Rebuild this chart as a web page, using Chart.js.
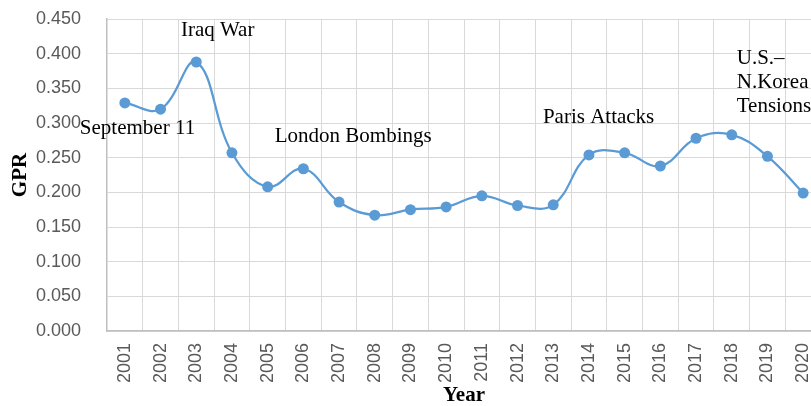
<!DOCTYPE html>
<html>
<head>
<meta charset="utf-8">
<script src="https://cdn.jsdelivr.net/npm/chart.js@4"></script>
<style>
  html, body { margin: 0; padding: 0; background: #fff; overflow: hidden; }
  #wrap { width: 811px; height: 406px; overflow: hidden; }
</style>
</head>
<body>
<div id="wrap"><canvas id="myChart" width="840" height="406"></canvas></div>
<script>
// datos del grafico
const years = ["2001", "2002", "2003", "2004", "2005", "2006", "2007", "2008", "2009", "2010",
  "2011", "2012", "2013", "2014", "2015", "2016", "2017", "2018", "2019", "2020"];
const gprValues = [0.329, 0.320, 0.388, 0.257, 0.208, 0.234, 0.186, 0.167, 0.175, 0.179,
  0.195, 0.181, 0.182, 0.254, 0.257, 0.238, 0.278, 0.283, 0.252, 0.199];
const yTicks = [0, 0.05, 0.1, 0.15, 0.2, 0.25, 0.3, 0.35, 0.4, 0.45];

// eventos: texto, posicion en categoria (x) y en GPR (linea base)
const eventLabels = [
  { lines: ["Iraq War"], x: 1.57, y: 0.4255 },
  { lines: ["September 11"], x: -1.26, y: 0.284 },
  { lines: ["London Bombings"], x: 4.2, y: 0.2726 },
  { lines: ["Paris Attacks"], x: 11.71, y: 0.300 },
  { lines: ["U.S.\u2013", "N.Korea", "Tensions"], x: 17.14, y: 0.385 }
];

const blue = "#5B9BD5";
const tickGrey = "#595959";

// plugin que escribe los eventos sobre el grafico
const eventsPlugin = {
  id: "events",
  afterDatasetsDraw(chart) {
    const ctx = chart.ctx;
    const xs = chart.scales.x;
    const ys = chart.scales.y;
    ctx.save();
    ctx.font = "21px 'Liberation Serif', 'Times New Roman', serif";
    ctx.fillStyle = "#000";
    ctx.textAlign = "left";
    ctx.textBaseline = "alphabetic";
    for (let ev of eventLabels) {
      const px = xs.getPixelForValue(ev.x);
      const py = ys.getPixelForValue(ev.y);
      ev.lines.forEach((t, i) => ctx.fillText(t, px, py + i * 24));
    }
    ctx.restore();
  }
};

const config = {
  type: "line",
  data: {
    labels: years,
    datasets: [{
      label: "GPR",
      data: gprValues,
      borderColor: blue,
      backgroundColor: blue,
      borderWidth: 2.25,
      pointRadius: 5.5,
      pointBorderWidth: 0,
      pointBackgroundColor: blue,
      tension: 0.4,
      fill: false
    }]
  },
  options: {
    responsive: false,
    devicePixelRatio: 1,
    animation: false,
    layout: { padding: { left: 8, right: 19, top: 19, bottom: 0 } },
    plugins: {
      legend: { display: false },
      tooltip: { enabled: false }
    },
    scales: {
      x: {
        offset: true,
        grid: { offset: true, color: "#d9d9d9", lineWidth: 1, drawTicks: false },
        border: { color: "#bfbfbf", width: 1.5 },
        ticks: {
          color: tickGrey,
          font: { family: "'Liberation Sans', Arial, sans-serif", size: 18 },
          minRotation: 90,
          maxRotation: 90,
          padding: 12,
          autoSkip: false
        },
        title: {
          display: true,
          text: "Year",
          color: "#000",
          font: { family: "'Liberation Serif', 'Times New Roman', serif", size: 21, weight: "bold", lineHeight: 1 },
          padding: 0
        },
        afterFit(scale) { scale.height = 75; }
      },
      y: {
        min: 0,
        max: 0.45,
        afterBuildTicks(scale) { scale.ticks = yTicks.map(v => ({ value: v })); },
        grid: { color: "#d9d9d9", lineWidth: 1, drawTicks: true, tickLength: 18, tickColor: "rgba(0,0,0,0)" },
        border: { color: "#bfbfbf", width: 1.5 },
        ticks: {
          color: tickGrey,
          font: { family: "'Liberation Sans', Arial, sans-serif", size: 18 },
          padding: 8,
          callback: (v) => Number(v).toFixed(3)
        },
        title: {
          display: true,
          text: "GPR",
          color: "#000",
          font: { family: "'Liberation Serif', 'Times New Roman', serif", size: 21, weight: "bold", lineHeight: 1.2 },
          padding: 0
        },
        afterFit(scale) { scale.width = 99; }
      }
    }
  },
  plugins: [eventsPlugin]
};

new Chart(document.getElementById("myChart").getContext("2d"), config);
</script>
</body>
</html>
